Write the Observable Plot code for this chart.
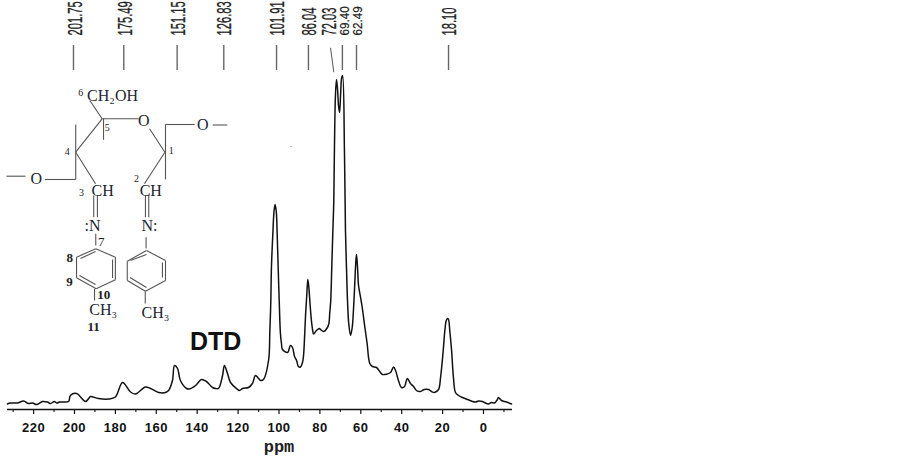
<!DOCTYPE html>
<html><head><meta charset="utf-8">
<script src="https://cdn.jsdelivr.net/npm/d3@7"></script>
<script src="https://cdn.jsdelivr.net/npm/@observablehq/plot@0.6"></script>
<style>html,body{margin:0;padding:0;background:#fff}svg{display:block}</style>
</head><body><div id="chart"></div>
<script>
// Spectrum: chemical shift (ppm) and intensity (a.u.)
const ppm = [232.8,231.3,227.9,224.9,222.5,220.5,218.6,215.6,213.2,211.7,209.9,208.6,207.3,205.4,202.9,202,199,194.6,192.7,192.2,188.3,183.4,180,176.5,172.6,170.2,165.3,162.8,158.9,155.5,154,152.1,151.1,149.6,148.2,145.2,143.8,140.8,137.9,135.5,132.5,131,129.6,127.6,126.7,125.2,123.7,120.8,119.3,117.8,114.9,113,111.5,110,109,107.6,
 105.1,104.5,104,103.7,103,102.4,101.9,101.3,100.9,100.4,99.9,99.3,98.8,98.3,
 95.8,94.4,93.4,92.4,91.4,90.5,89.5,88.5,88,87.5,87,86.4,85.9,85.4,84.8,84.2,83.6,83.1,
 81.7,80.2,79.7,78.2,76.3,75.6,75.2,74.7,74.2,73.7,73.2,72.9,72.4,71.9,
 71.4,70.9,70.4,69.9,69.4,68.9,68,67.5,67,66.5,65.9,65,
 64.2,63.6,63.1,62.4,62.1,61.6,61.1,60.1,59.3,58,56.9,55.6,54.3,52.3,50.4,49.4,45.5,44,43,41.6,40.1,38.6,37.7,37.2,35.7,34.2,32.8,30.8,28.9,26.9,25.4,24,22,
 21,19.7,18.9,18.2,17.6,17.1,16.5,15.6,14.7,13.7,
 12.2,10.3,7.8,5.4,3.9,2.4,0.5,-0.5,-2.4,-3.9,-5.4,-6.8,-7.3,-8.8,-11.2,-13.7];
const intensity = [5.5,6.5,6.5,8.5,6,6.5,5,8,7.5,6,8,6.5,7.5,7.5,8,14,16,8,12,13,11,10.5,12.5,27,17.5,15.5,22.5,21,17,17,19,29,44,41,29,21,20.5,24,30,28,22,21,21,34,44,36,27,21,19,21,22,26,34,31,29,30,
 49,76,109,142,176,199,205,197,176,142,109,76,66,60,
 57,64,62,53,49,43,42.5,47,54,72,95,115,130,122,105,90,80,75.5,
 79,81,80,78,82,86,96,109,142,176,209,259,314,330,
 321,304,297,314,331,334,259,179,142,109,86,74,
 82,99,119,149,155,142,124,112,102,82,66,46,43,42,37,35,37,42.5,39,29,22,23,29,31,26,23,19,18,20,20,18,17,20,
 32,59,79,89,91,90,79,59,32,17,
 14,12,10,8,7.5,8.5,8,7,5.5,7,6.5,10,12,9,7.5,5.5];

// Peak annotations
const peakLabels = ["201.75","175.49","151.15","126.83","101.91","86.04","72.03","18.10"];
const peakLabelPpm = [199.7,175.1,149.1,126.4,100.8,85.1,75.3,16.6];
const narrowLabels = ["69.40","62.49"];
const narrowLabelPpm = [68,61.4];
const peakMarkPpm = [200.5,175.9,149.8,127,101.2,85.6,69,62.1,17.1];
const slantedMark = [[74.8,361.7,73.2,337.3]];

// Axis
const majorTicks = [220,200,180,160,140,120,100,80,60,40,20,0];
const minorTicks = [230,210,190,170,150,130,110,90,70,50,30,10,-10];
const axisName = ["ppm"]; const axisNamePpm = [100]; const axisNameInt = [-37];

// Inset structure, given in the same ppm / intensity units
const bonds = [
 [192.5,309,186.5,290.7],[186.5,290.7,168.6,290.7],[185.8,290.7,185.8,269.7],[186.5,290.7,199.4,257.3],
 [199.4,257.3,199.4,285],[199.4,257.3,199.4,230],[199.4,230,214.5,230],[199.4,257.3,189.7,225.7],
 [233.3,233.3,224,233.3],[163.3,280.7,155.8,257.3],[155.5,285,155.5,230],[155.5,285,141.2,285],
 [132.4,284.5,125.3,284.5],[155.8,257.3,165.8,225.7],
 [190.6,214,190.6,192.3],[188.8,214,188.8,192.3],[165.3,214,165.3,192.3],[163.7,214,163.7,192.3],
 [189.6,175.7,189.6,164],[165,172.3,165,161],[190.2,120.7,190.2,109],[165.4,118.3,165.4,106],
 // left ring
 [189.6,160.7,180,152.3],[180,152.3,180,129.7],[180,129.7,189.4,120.7],[189.4,120.7,199,131.7],[199,131.7,199,152.3],[199,152.3,189.6,160.7],
 [197.1,151,189.7,158],[181.4,150,181.4,131.5],[197.6,134,189.7,125],
 // right ring
 [164.8,159,155.5,149],[155.5,149,155.5,129],[155.5,129,165.3,118.3],[165.3,118.3,174.2,129],[174.2,129,174.2,148.3],[174.2,148.3,164.8,159],
 [172.6,149,164.8,155],[157,147,157,132],[172.9,132,164.8,122]
];
const speck = [[94.6,263,93.6,263]];
const atomText = ["CH₂OH","O","O","O","CH","CH",":N","N:","CH₃","CH₃"];
const atomPpm = [181.4,166.1,137.3,218.7,186.2,162.7,191.2,163.3,186,160.4];
const atomInt = [314,289,285,230.7,219,218.3,184,183.3,99.3,96.7];
const numText = ["6","5","4","1","2","3"];
const numPpm = [196.9,184,203.6,152.7,169.7,196.6];
const numInt = [316.7,281.7,257.3,259,230.7,216.7];
const ringNum = ["7"]; const ringNumPpm = [186.9]; const ringNumInt = [167.3];
const boldText = ["8","9","10","11"];
const boldPpm = [202.3,202.4,185.7,190.6];
const boldInt = [151.3,128,115,83];
const sampleName = ["DTD"]; const samplePpm = [131]; const sampleInt = [67.3];

const spectrum = ppm.map((p,i)=>({p,v:intensity[i]}));
const seg = (s,o)=>Plot.link(s,{x1:d=>d[0],y1:d=>d[1],x2:d=>d[2],y2:d=>d[3],...o});
const txt = (t,xs,ys,o)=>Plot.text(t,{x:(_,i)=>xs[i],y:(_,i)=>ys[i],text:d=>d,...o});

const chart = Plot.plot({
  width:902,height:456,marginLeft:7,marginRight:390,marginTop:0,marginBottom:47,
  x:{domain:[232.76,-14.18],label:null},
  y:{domain:[0,409],axis:null},
  style:{background:"#fff",overflow:"visible"},
  marks:[
    Plot.axisX({ticks:minorTicks,tickSize:3,tickFormat:()=>"",strokeWidth:1.2,stroke:"#222",label:null}),
    Plot.axisX({ticks:majorTicks,tickSize:5,tickPadding:8,strokeWidth:1.2,stroke:"#111",fill:"#111",
      fontSize:13,fontWeight:"bold",fontFamily:"Liberation Sans",tickFormat:d=>String(d),
      label:null,className:"ppmaxis"}),
    Plot.ruleY([0],{x1:232.76,x2:-14.18,stroke:"#111",strokeWidth:1.5}),
    Plot.line(spectrum,{x:"p",y:"v",curve:"catmull-rom",stroke:"#111",strokeWidth:1.5}),
    Plot.ruleX(peakMarkPpm,{y1:364,y2:339,stroke:"#666",strokeWidth:1.4}),
    seg(slantedMark,{stroke:"#555",strokeWidth:1}),
    txt(peakLabels,peakLabelPpm,peakLabels.map(()=>374),{rotate:-90,textAnchor:"start",lineAnchor:"middle",fontSize:20,fontFamily:"Liberation Sans",fill:"#222",stroke:"#222",strokeWidth:0.3,className:"wideLabel"}),
    txt(narrowLabels,narrowLabelPpm,narrowLabels.map(()=>374),{rotate:-90,textAnchor:"start",lineAnchor:"middle",fontSize:13,fontFamily:"Liberation Sans",fill:"#222",stroke:"#222",strokeWidth:0.2,className:"narrowLabel"}),
    seg(bonds,{stroke:"#555",strokeWidth:1.1}),
    seg(speck,{stroke:"#bbb",strokeWidth:1}),
    txt(atomText,atomPpm,atomInt,{fontSize:16,fontFamily:"Liberation Serif",fill:"#1c2430"}),
    txt(numText,numPpm,numInt,{fontSize:10,fontFamily:"Liberation Serif",fill:"#222"}),
    txt(ringNum,ringNumPpm,ringNumInt,{fontSize:13,fontFamily:"Liberation Serif",fill:"#222"}),
    txt(boldText,boldPpm,boldInt,{fontSize:13,fontWeight:"bold",fontFamily:"Liberation Serif",fill:"#222"}),
    txt(sampleName,samplePpm,sampleInt,{fontSize:25,fontWeight:"bold",fontFamily:"Liberation Sans",fill:"#111"}),
    txt(axisName,axisNamePpm,axisNameInt,{fontSize:17,fontWeight:"bold",fontFamily:"Liberation Mono",fill:"#222"})
  ]
});
// Peak labels are condensed along the reading direction, as in the source figure
const squeeze=(cls,k)=>d3.select(chart).selectAll("g."+cls+" text").attr("transform",function(){return this.getAttribute("transform")+` scale(${k},1)`;});
squeeze("wideLabel",0.56);squeeze("narrowLabel",0.9);
d3.select(chart).selectAll("g.ppmaxis text").style("letter-spacing","0.5px");
document.getElementById("chart").appendChild(chart);
</script></body></html>
